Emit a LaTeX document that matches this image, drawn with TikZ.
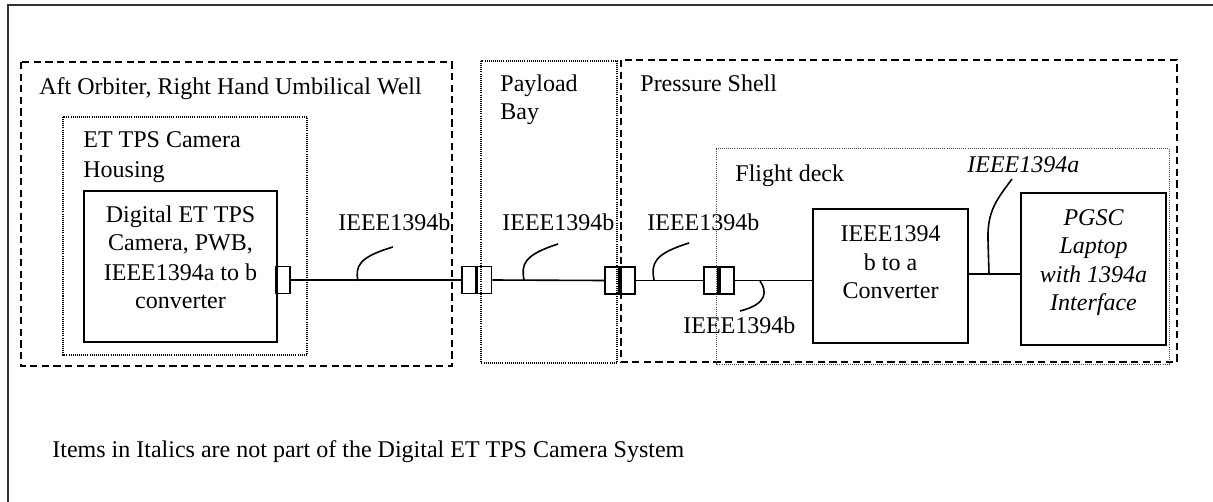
\documentclass[tikz,border=0pt]{standalone}
\usepackage{fontspec}
\setmainfont{Liberation Serif}
\begin{document}
\begin{tikzpicture}[x=0.5pt,y=-0.5pt,
  txt/.style={inner sep=0pt,anchor=base west,font=\fontsize{12}{14}\selectfont},
  ctxt/.style={inner sep=0pt,anchor=base,font=\fontsize{12}{14}\selectfont},
  solidbox/.style={draw,line width=0.8pt,inner sep=0pt},
  plug/.style={draw,line width=0.8pt,inner sep=0pt,minimum width=7pt,minimum height=13.5pt},
  regdash/.style={line width=1pt,dash pattern=on 3.6pt off 2.2pt},
  regdot/.style={line width=0.9pt,dash pattern=on 0.5pt off 0.55pt},
  regfine/.style={line width=0.5pt,draw=black!70,dash pattern=on 0.45pt off 0.6pt},
  cable/.style={line width=0.8pt},
  lead/.style={line width=0.8pt}]
\useasboundingbox (0,0) rectangle (1213,502);
% outer frame (only top and left visible)
\draw[line width=0.9pt,draw=black!80] (1213,5) -- (8,5) -- (8,502);
% regions
\draw[regdash] (21,62) rectangle (452,366);
\draw[regdot] (63,117) rectangle (307,355);
\draw[regdot] (481,61) rectangle (617,363);
\draw[regdash] (621,60) rectangle (1177,362);
\draw[regfine] (716,149) rectangle (1169,364);
% region labels
\node[txt] (aftlbl) at (39,95) {Aft Orbiter, Right Hand Umbilical Well};
\node[txt] (hous1) at (83,148) {ET TPS Camera};
\node[txt] (hous2) at (83,177) {Housing};
\node[txt] (pay1) at (500,92) {Payload};
\node[txt] (pay2) at (500,120) {Bay};
\node[txt] (press) at (640,92) {Pressure Shell};
\node[txt] (fdeck) at (735,182) {Flight deck};
% boxes
\node[solidbox,minimum width=96.5pt,minimum height=75.5pt] (cam) at (180.5,266.5) {};
\node[ctxt] (cam1) at (180.5,222) {Digital ET TPS};
\node[ctxt] (cam2) at (180.5,250) {Camera, PWB,};
\node[ctxt] (cam3) at (180.5,280) {IEEE1394a to b};
\node[ctxt] (cam4) at (180.5,308) {converter};
\node[solidbox,minimum width=77.5pt,minimum height=67pt] (conv) at (890.5,276) {};
\node[ctxt] (conv1) at (890.5,242) {IEEE1394};
\node[ctxt] (conv2) at (890.5,270) {b to a};
\node[ctxt] (conv3) at (890.5,298) {Converter};
\node[solidbox,minimum width=72.5pt,minimum height=76pt] (lap) at (1093.5,269) {};
\node[ctxt] (lap1) at (1093.5,225) {\itshape PGSC};
\node[ctxt] (lap2) at (1093.5,253) {\itshape Laptop};
\node[ctxt] (lap3) at (1093.5,282) {\itshape with 1394a};
\node[ctxt] (lap4) at (1093.5,310) {\itshape Interface};
% connectors
\node[plug] (c0) at (283,280) {};
\node[plug] (c1) at (469,280) {};
\node[plug] (c2) at (484.5,280) {};
\node[plug] (c3) at (612,280.5) {};
\node[plug] (c4) at (628,280.5) {};
\node[plug] (c5) at (711,280.5) {};
\node[plug] (c6) at (727,280.5) {};
% cables
\draw[cable] (c0.east) -- (c1.west);
\draw[cable] (c1.east) -- (c2.west);
\draw[cable] (c2.east) -- (c3.west);
\draw[cable] (c4.east) -- (c5.west);
\draw[cable] (c6.east) -- (c6.east -| conv.west);
\draw[cable] (conv.east |- 0,274) -- (lap.west |- 0,274);
% cable labels
\node[txt] (lb1) at (338,230) {IEEE1394b};
\node[txt] (lb2) at (502,230) {IEEE1394b};
\node[txt] (lb3) at (647,230) {IEEE1394b};
\node[txt] (lb4) at (683,333) {IEEE1394b};
\node[txt] (la1) at (967,173) {\itshape IEEE1394a};
% leader lines
\coordinate (p1) at (358,281); \coordinate (q1) at (393,247);
\coordinate (p2) at (524,280); \coordinate (q2) at (558,244);
\coordinate (p3) at (654,280); \coordinate (q3) at (689,243);
\coordinate (p4) at (760,281); \coordinate (q4) at (740,311);
\coordinate (p5) at (989,274); \coordinate (q5) at (1012,179);
\draw[lead] (p1) .. controls (355,266) and (359,257) .. (q1);
\draw[lead] (p2) .. controls (521,264) and (524,255) .. (q2);
\draw[lead] (p3) .. controls (651,263) and (654,254) .. (q3);
\draw[lead] (p4) .. controls (767,291) and (768,304) .. (q4);
\draw[lead] (p5) -- (988,240) .. controls (987,210) and (998,198) .. (q5);
% note
\node[txt] (note) at (52,457) {Items in Italics are not part of the Digital ET TPS Camera System};
\end{tikzpicture}
\end{document}
